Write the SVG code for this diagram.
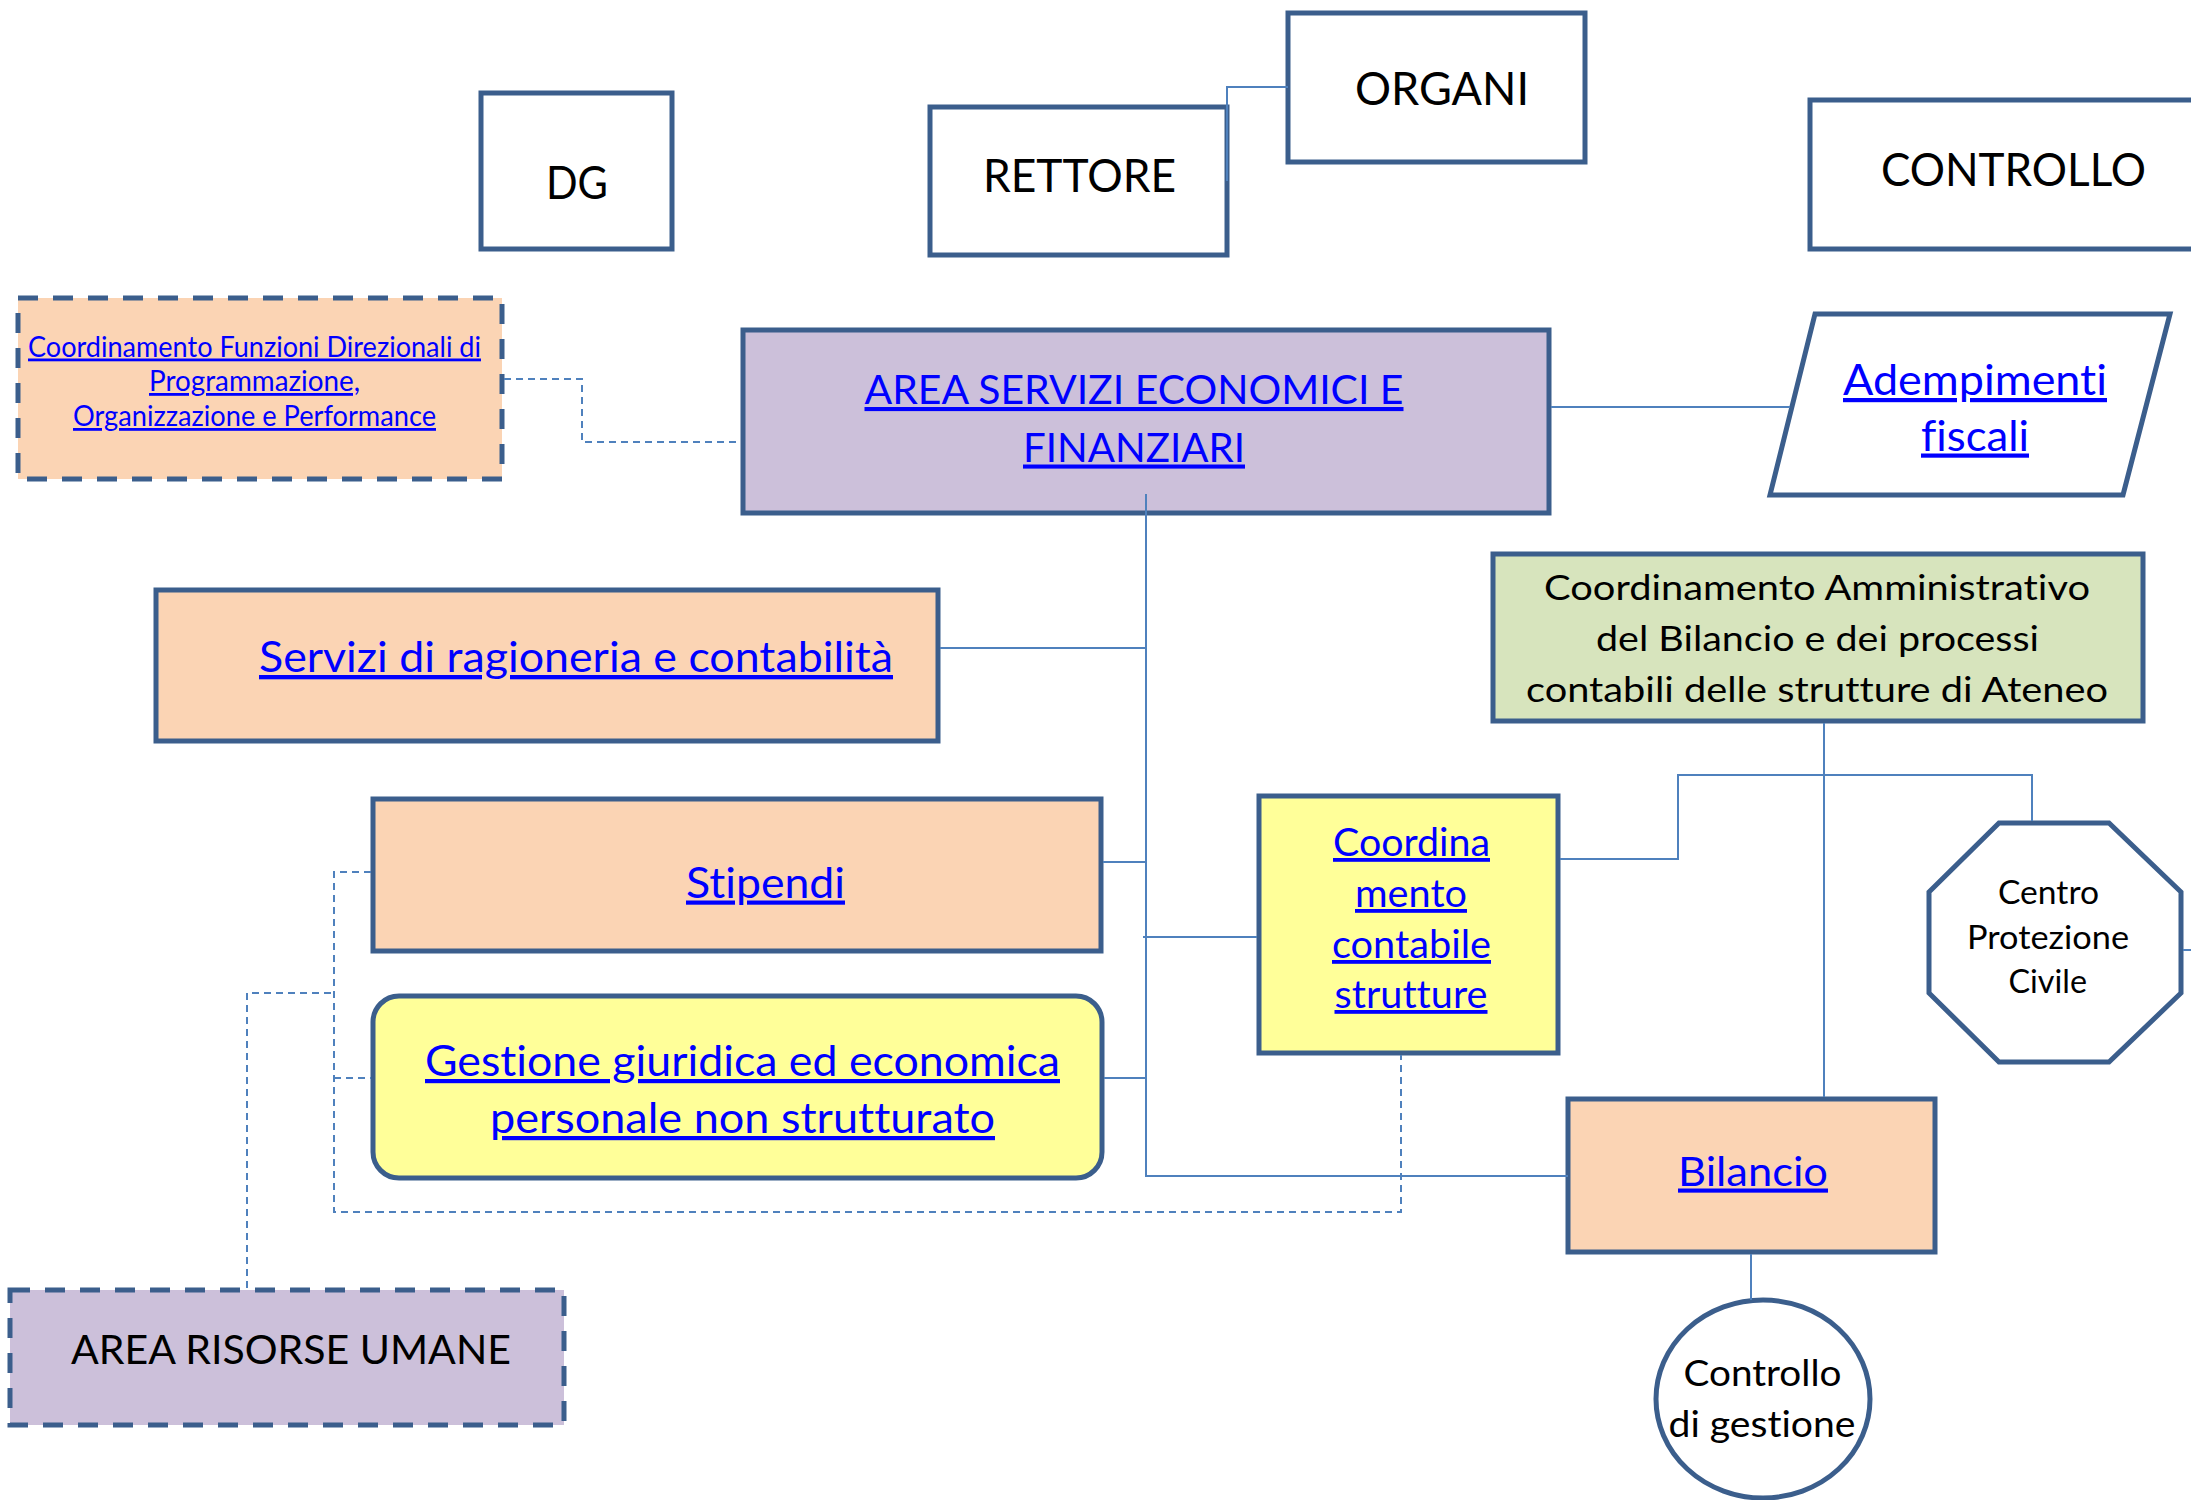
<svg xmlns="http://www.w3.org/2000/svg" width="2191" height="1500" viewBox="0 0 2191 1500">
<style>
.nb{stroke:#3B5E8C;stroke-width:5;stroke-linejoin:miter}
.dash{stroke-dasharray:20 15}
.w{fill:#FFFFFF}
.peach{fill:#FBD4B4}
.lav{fill:#CCC0DA}
.yel{fill:#FFFF99}
.grn{fill:#D7E4BD}
text{font-variant-ligatures:none}
.t{font-family:Lato,"Open Sans","Liberation Sans",sans-serif;fill:#000000}
.lk{font-family:Lato,"Open Sans","Liberation Sans",sans-serif;fill:#0000FF;text-decoration:underline}
.c{fill:none;stroke:#4F81BD;stroke-width:2}
.cd{fill:none;stroke:#4F81BD;stroke-width:2;stroke-dasharray:7 5}
</style>
<rect width="2191" height="1500" fill="#FFFFFF"/>
<g id="dg">
<rect class="nb w" x="481" y="93" width="191" height="156"/>
<text class="t" x="546" y="198.5" font-size="47" textLength="62" lengthAdjust="spacingAndGlyphs">DG</text>
</g>
<g id="rettore">
<rect class="nb w" x="930" y="107" width="297" height="148"/>
<text class="t" x="983" y="192" font-size="47" textLength="193" lengthAdjust="spacingAndGlyphs">RETTORE</text>
</g>
<g id="organi">
<rect class="nb w" x="1288" y="13" width="297" height="149"/>
<text class="t" x="1355" y="105" font-size="47" textLength="174" lengthAdjust="spacingAndGlyphs">ORGANI</text>
</g>
<g id="controllo">
<rect class="nb w" x="1810" y="100" width="420" height="149"/>
<text class="t" x="1881" y="185.5" font-size="47" textLength="265" lengthAdjust="spacingAndGlyphs">CONTROLLO</text>
</g>
<g id="coord-funzioni">
<rect class="nb dash peach" x="18" y="298" width="484" height="181"/>
<text class="lk" x="28" y="356.5" font-size="28" textLength="453" lengthAdjust="spacingAndGlyphs">Coordinamento Funzioni Direzionali di</text>
<text class="lk" x="149" y="391" font-size="28" textLength="211" lengthAdjust="spacingAndGlyphs">Programmazione,</text>
<text class="lk" x="73" y="426" font-size="28" textLength="363" lengthAdjust="spacingAndGlyphs">Organizzazione e Performance</text>
</g>
<g id="area-sef">
<rect class="nb lav" x="743" y="330" width="806" height="183"/>
<text class="lk" x="864.5" y="404" font-size="41" textLength="539" lengthAdjust="spacingAndGlyphs">AREA SERVIZI ECONOMICI E</text>
<text class="lk" x="1023" y="461.5" font-size="41" textLength="222" lengthAdjust="spacingAndGlyphs">FINANZIARI</text>
</g>
<g id="adempimenti">
<polygon class="nb w" points="1815,314 2170,314 2123,495 1770,495"/>
<text class="lk" x="1843" y="395" font-size="42" textLength="264" lengthAdjust="spacingAndGlyphs">Adempimenti</text>
<text class="lk" x="1921" y="450.5" font-size="42" textLength="108" lengthAdjust="spacingAndGlyphs">fiscali</text>
</g>
<g id="servizi-ragioneria">
<rect class="nb peach" x="156" y="590" width="782" height="151"/>
<text class="lk" x="259" y="672" font-size="43" textLength="634" lengthAdjust="spacingAndGlyphs">Servizi di ragioneria e contabilità</text>
</g>
<g id="coord-amministrativo">
<rect class="nb grn" x="1493" y="554" width="650" height="167"/>
<text class="t" x="1544" y="599.5" font-size="35" textLength="546" lengthAdjust="spacingAndGlyphs">Coordinamento Amministrativo</text>
<text class="t" x="1596" y="650.5" font-size="35" textLength="443" lengthAdjust="spacingAndGlyphs">del Bilancio e dei processi</text>
<text class="t" x="1526" y="702" font-size="35" textLength="582" lengthAdjust="spacingAndGlyphs">contabili delle strutture di Ateneo</text>
</g>
<g id="stipendi">
<rect class="nb peach" x="373" y="799" width="728" height="152"/>
<text class="lk" x="686" y="897.5" font-size="42" textLength="159" lengthAdjust="spacingAndGlyphs">Stipendi</text>
</g>
<g id="gestione">
<rect class="nb yel" x="373" y="996" width="729" height="182" rx="26" ry="26"/>
<text class="lk" x="425" y="1076" font-size="42" textLength="635" lengthAdjust="spacingAndGlyphs">Gestione giuridica ed economica</text>
<text class="lk" x="490" y="1133" font-size="42" textLength="505" lengthAdjust="spacingAndGlyphs">personale non strutturato</text>
</g>
<g id="coord-contabile">
<rect class="nb yel" x="1259" y="796" width="299" height="257"/>
<text class="lk" x="1333" y="856" font-size="38" textLength="157" lengthAdjust="spacingAndGlyphs">Coordina</text>
<text class="lk" x="1355" y="907" font-size="38" textLength="112" lengthAdjust="spacingAndGlyphs">mento</text>
<text class="lk" x="1332" y="958" font-size="38" textLength="159" lengthAdjust="spacingAndGlyphs">contabile</text>
<text class="lk" x="1334.5" y="1008" font-size="38" textLength="153" lengthAdjust="spacingAndGlyphs">strutture</text>
</g>
<g id="protezione-civile">
<polygon class="nb w" points="1999,823 2109,823 2181,892 2181,993 2109,1062 1999,1062 1929,993 1929,892"/>
<text class="t" x="1998" y="904" font-size="33.5" textLength="101" lengthAdjust="spacingAndGlyphs">Centro</text>
<text class="t" x="1967" y="948.5" font-size="33.5" textLength="162" lengthAdjust="spacingAndGlyphs">Protezione</text>
<text class="t" x="2008.5" y="993" font-size="33.5" textLength="78.5" lengthAdjust="spacingAndGlyphs">Civile</text>
</g>
<g id="bilancio">
<rect class="nb peach" x="1568" y="1099" width="367" height="153"/>
<text class="lk" x="1678" y="1185.5" font-size="41.5" textLength="150" lengthAdjust="spacingAndGlyphs">Bilancio</text>
</g>
<g id="controllo-gestione">
<ellipse class="nb w" cx="1763" cy="1399" rx="107" ry="99"/>
<text class="t" x="1683.5" y="1386" font-size="36" textLength="158" lengthAdjust="spacingAndGlyphs">Controllo</text>
<text class="t" x="1668.5" y="1436.5" font-size="36" textLength="187" lengthAdjust="spacingAndGlyphs">di gestione</text>
</g>
<g id="area-risorse-umane">
<rect class="nb dash lav" x="10" y="1290" width="554" height="135"/>
<text class="t" x="71" y="1363.5" font-size="40" textLength="440" lengthAdjust="spacingAndGlyphs">AREA RISORSE UMANE</text>
</g>
<g id="connectors">
<path class="c" d="M1227,181 V87 H1288"/>
<path class="c" d="M1146,494 V1176 H1568"/>
<path class="c" d="M940,648 H1146"/>
<path class="c" d="M1103,862 H1146"/>
<path class="c" d="M1104,1078 H1146"/>
<path class="c" d="M1143,937 H1257"/>
<path class="c" d="M1551,407 H1790"/>
<path class="c" d="M1824,723 V1097"/>
<path class="c" d="M1560,859 H1678 V775 H2032 V821"/>
<path class="c" d="M1751,1254 V1300"/>
<path class="c" d="M2183,950 H2191"/>
<path class="cd" d="M504,379 H582 V442 H741"/>
<path class="cd" d="M247,1288 V993 H334"/>
<path class="cd" d="M371,872 H334 V1212 H1401 V1055"/>
<path class="cd" d="M334,1078 H371"/>
</g>
</svg>
